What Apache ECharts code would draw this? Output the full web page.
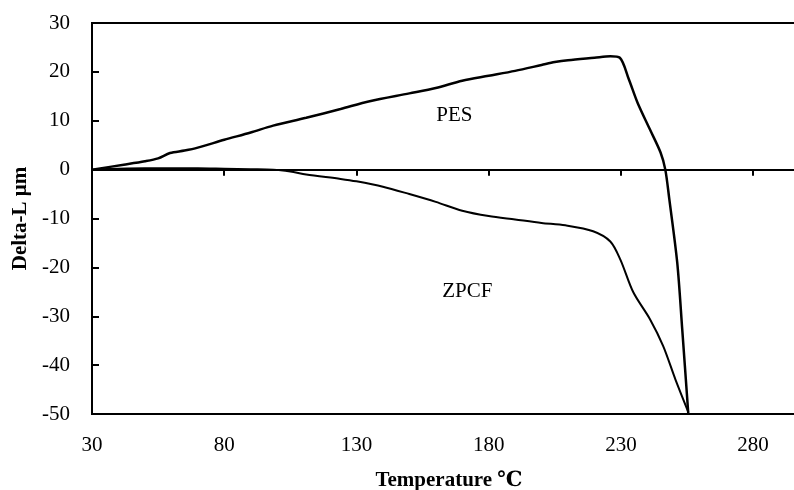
<!DOCTYPE html>
<html>
<head>
<meta charset="utf-8">
<script src="https://cdn.jsdelivr.net/npm/echarts@6/dist/echarts.min.js"></script>
<style>
html,body{margin:0;padding:0;background:#fff;}
#main{width:794px;height:490px;}
</style>
</head>
<body>
<div id="main"></div>
<script>
var pesTemp = [30, 42, 50, 55, 59.5, 65, 70, 80, 90, 98.5, 111, 124, 135, 150, 160, 170, 180, 190, 200, 205, 210, 220, 226, 229.6, 233, 236.3, 241, 245, 246.8, 248.3, 251.3, 253.2, 255.5];
var pesVal = [0, 1.0, 1.7, 2.3, 3.4, 3.9, 4.5, 6.1, 7.6, 9.0, 10.6, 12.4, 14.0, 15.6, 16.7, 18.2, 19.2, 20.2, 21.4, 22.0, 22.4, 22.9, 23.2, 22.9, 18.5, 13.7, 8.2, 3.5, 0, -6, -19, -32.7, -50];
var zpcfTemp = [30, 40, 50, 60, 70, 80, 90, 98.5, 105, 111, 124, 130, 140, 150, 160, 170, 180, 190, 200, 209, 219.5, 226, 229.8, 234.7, 241, 246, 250.6, 255.5];
var zpcfVal = [0, 0.2, 0.3, 0.3, 0.3, 0.2, 0.1, 0, -0.4, -1.0, -1.9, -2.4, -3.5, -5.0, -6.6, -8.4, -9.5, -10.2, -10.9, -11.4, -12.6, -14.7, -18.4, -25.1, -30.6, -36.1, -42.9, -49.6];
var xTicks = [30, 80, 130, 180, 230, 280];
var yTicks = [-50, -40, -30, -20, -10, 0, 10, 20, 30];
var curveNames = ['PES', 'ZPCF'];
var namePos = [[167, 11.0], [171.9, -24.9]];

function pairs(xs, ys){
	var out = [];
	for (var i = 0; i < xs.length; i++) out.push([xs[i], ys[i]]);
	return out;
}

var font = '"Liberation Serif", "DejaVu Serif", serif';
var myChart = echarts.init(document.getElementById('main'));
var option = {
	animation: false,
	grid: {left: 92, top: 23, right: -12, bottom: 76, outerBoundsMode: 'none', show: true, borderColor: '#000', borderWidth: 2},
	xAxis: [
		{
			type: 'value', min: 30, max: 300, interval: 50,
			name: 'Temperature ℃', nameLocation: 'middle', nameGap: 56,
			nameTextStyle: {fontFamily: font, fontWeight: 'bold', fontSize: 21, color: '#000'},
			axisLine: {onZero: false, lineStyle: {color: '#000', width: 2}},
			axisTick: {show: false},
			splitLine: {show: false},
			axisLabel: {
				margin: 21, fontFamily: font, fontSize: 21, color: '#000',
				formatter: function(v){ return xTicks.indexOf(v) >= 0 ? String(v) : ''; }
			}
		},
		{
			type: 'value', min: 30, max: 300, interval: 50, position: 'bottom',
			axisLine: {onZero: true, lineStyle: {color: '#000', width: 2}},
			axisTick: {show: true, inside: false, length: 6, lineStyle: {color: '#000', width: 2}},
			axisLabel: {show: false},
			splitLine: {show: false}
		}
	],
	yAxis: {
		type: 'value', min: -50, max: 30, interval: 10,
		name: 'Delta-L μm', nameLocation: 'middle', nameGap: 57,
		nameTextStyle: {fontFamily: font, fontWeight: 'bold', fontSize: 21, color: '#000'},
		axisLine: {lineStyle: {color: '#000', width: 2}},
		axisTick: {inside: true, length: 7, lineStyle: {color: '#000', width: 2}},
		axisLabel: {margin: 22, fontFamily: font, fontSize: 21, color: '#000',
			formatter: function(v){ return yTicks.indexOf(v) >= 0 ? String(v) : ''; }},
		splitLine: {show: false}
	},
	series: [
		{
			name: curveNames[0], type: 'line', smooth: 0.3, symbol: 'none',
			data: pairs(pesTemp, pesVal),
			lineStyle: {color: '#000', width: 2.5}
		},
		{
			name: curveNames[1], type: 'line', smooth: 0.3, symbol: 'none',
			data: pairs(zpcfTemp, zpcfVal),
			lineStyle: {color: '#000', width: 2}
		},
		{
			type: 'scatter', symbolSize: 0,
			itemStyle: {opacity: 1, color: '#000'},
			data: [
				{value: namePos[0], name: curveNames[0]},
				{value: namePos[1], name: curveNames[1]}
			],
			label: {show: true, position: 'inside', formatter: '{b}', fontFamily: font, fontSize: 21,
				color: '#000', opacity: 1, textBorderWidth: 0}
		}
	]
};
myChart.setOption(option);
</script>
</body>
</html>
